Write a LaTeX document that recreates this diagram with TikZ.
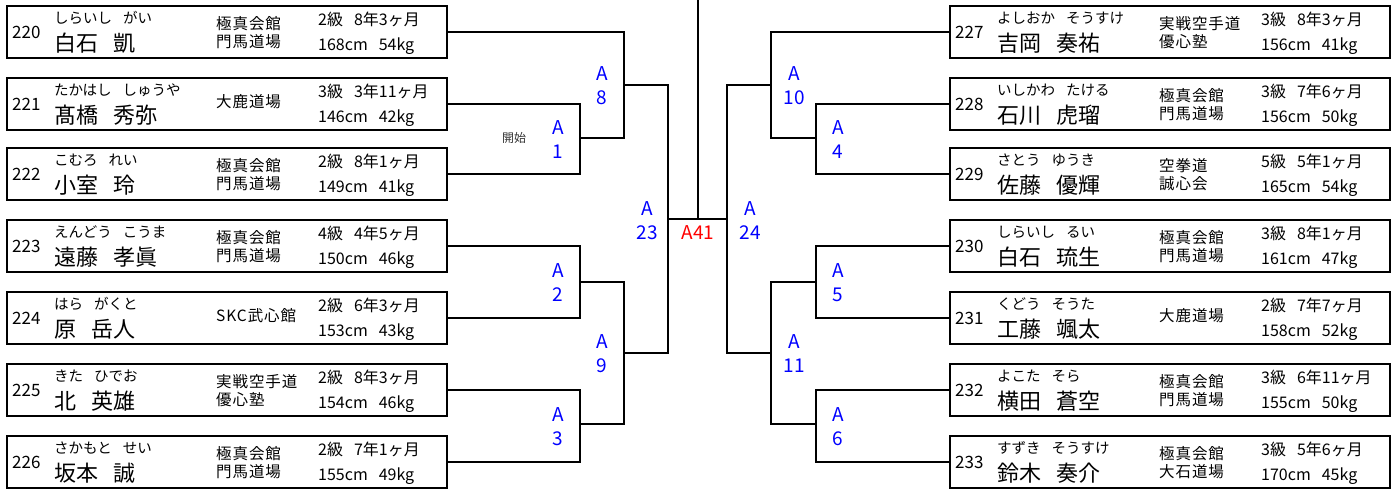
\documentclass[tikz,border=0pt]{standalone}
\usepackage{fontspec}
\setmainfont{Noto Sans CJK JP}
\newfontfamily\dojofont[LetterSpace=6]{Noto Sans CJK JP}
\newcommand{\fsp}{\hspace{11pt}}
\newcommand{\nsp}{\hspace{15pt}}
\newcommand{\gsp}{\hspace{11pt}}
\newcommand{\plyr}[9]{%
  \node[pbox] (p#1) at (#2,#3) {};
  \node[numt] (p#1num) at ([shift={(6pt,-33pt)}]p#1.north west) {#1};
  \node[furit] (p#1furi) at ([shift={(48pt,-18.5pt)}]p#1.north west) {#4};
  \node[namet] (p#1name) at ([shift={(48pt,-46.5pt)}]p#1.north west) {#5};
  \if\relax\detokenize{#7}\relax
    \node[dojot] (p#1dojo) at ([shift={(210pt,-30pt)}]p#1.north west) {#6};
  \else
    \node[dojot] (p#1dojoa) at ([shift={(210pt,-24.5pt)}]p#1.north west) {#6};
    \node[dojot] (p#1dojob) at ([shift={(210pt,-42.5pt)}]p#1.north west) {#7};
  \fi
  \node[gradet] (p#1grade) at ([shift={(312pt,-20pt)}]p#1.north west) {#8};
  \node[gradet] (p#1hw) at ([shift={(312pt,-45pt)}]p#1.north west) {#9};
}
\begin{document}
\begin{tikzpicture}[x=1pt,y=-1pt,
  pbox/.style={draw, line width=2pt, minimum width=440pt, minimum height=52pt, inner sep=0pt, anchor=north west},
  txt/.style={inner sep=0pt, anchor=base west, text=black},
  numt/.style={txt, font=\fontsize{17}{17}\selectfont},
  furit/.style={txt, font=\fontsize{14.5}{14.5}\selectfont},
  namet/.style={txt, font=\fontsize{22}{22}\selectfont},
  dojot/.style={txt, font=\dojofont\fontsize{15.5}{15.5}\selectfont},
  gradet/.style={txt, font=\fontsize{16}{16}\selectfont},
  lab/.style={inner sep=0pt, anchor=north, align=center, text=blue, font=\fontsize{19}{24}\selectfont},
  fin/.style={inner sep=0pt, anchor=base, text=red, font=\fontsize{19}{24}\selectfont},
  brk/.style={line width=1.6pt}]
\useasboundingbox (0,0) rectangle (1397,490);

% left players
\plyr{220}{6}{5}{しらいし\fsp がい}{白石\nsp 凱}{極真会館}{門馬道場}{2級\gsp 8年3ヶ月}{168cm\gsp 54kg}
\plyr{221}{6}{77}{たかはし\fsp しゅうや}{髙橋\nsp 秀弥}{大鹿道場}{}{3級\gsp 3年11ヶ月}{146cm\gsp 42kg}
\plyr{222}{6}{147}{こむろ\fsp れい}{小室\nsp 玲}{極真会館}{門馬道場}{2級\gsp 8年1ヶ月}{149cm\gsp 41kg}
\plyr{223}{6}{219}{えんどう\fsp こうま}{遠藤\nsp 孝眞}{極真会館}{門馬道場}{4級\gsp 4年5ヶ月}{150cm\gsp 46kg}
\plyr{224}{6}{291}{はら\fsp がくと}{原\nsp 岳人}{SKC武心館}{}{2級\gsp 6年3ヶ月}{153cm\gsp 43kg}
\plyr{225}{6}{363}{きた\fsp ひでお}{北\nsp 英雄}{実戦空手道}{優心塾}{2級\gsp 8年3ヶ月}{154cm\gsp 46kg}
\plyr{226}{6}{435}{さかもと\fsp せい}{坂本\nsp 誠}{極真会館}{門馬道場}{2級\gsp 7年1ヶ月}{155cm\gsp 49kg}
% right players
\plyr{227}{949}{5}{よしおか\fsp そうすけ}{吉岡\nsp 奏祐}{実戦空手道}{優心塾}{3級\gsp 8年3ヶ月}{156cm\gsp 41kg}
\plyr{228}{949}{77}{いしかわ\fsp たける}{石川\nsp 虎瑠}{極真会館}{門馬道場}{3級\gsp 7年6ヶ月}{156cm\gsp 50kg}
\plyr{229}{949}{147}{さとう\fsp ゆうき}{佐藤\nsp 優輝}{空拳道}{誠心会}{5級\gsp 5年1ヶ月}{165cm\gsp 54kg}
\plyr{230}{949}{219}{しらいし\fsp るい}{白石\nsp 琉生}{極真会館}{門馬道場}{3級\gsp 8年1ヶ月}{161cm\gsp 47kg}
\plyr{231}{949}{291}{くどう\fsp そうた}{工藤\nsp 颯太}{大鹿道場}{}{2級\gsp 7年7ヶ月}{158cm\gsp 52kg}
\plyr{232}{949}{363}{よこた\fsp そら}{横田\nsp 蒼空}{極真会館}{門馬道場}{3級\gsp 6年11ヶ月}{155cm\gsp 50kg}
\plyr{233}{949}{435}{すずき\fsp そうすけ}{鈴木\nsp 奏介}{極真会館}{大石道場}{3級\gsp 5年6ヶ月}{170cm\gsp 45kg}

% match points
\coordinate (m1) at (580,138);
\coordinate (m2) at (580,282);
\coordinate (m3) at (580,424);
\coordinate (m8) at (624,85);
\coordinate (m9) at (624,353);
\coordinate (m23) at (668,219);
\coordinate (mf) at (698,219);
\coordinate (mtop) at (698,0);
\coordinate (m24) at (727,219);
\coordinate (m10) at (771,85);
\coordinate (m11) at (771,353);
\coordinate (m4) at (816,138);
\coordinate (m5) at (816,282);
\coordinate (m6) at (816,424);

% left bracket
\draw[brk] (p221.east) -| (m1) |- (p222.east);
\draw[brk] (p223.east) -| (m2) |- (p224.east);
\draw[brk] (p225.east) -| (m3) |- (p226.east);
\draw[brk] (p220.east) -| (m8) |- (m1);
\draw[brk] (m2) -| (m9) |- (m3);
\draw[brk] (m8) -| (m23) |- (m9);
% final
\draw[brk] (m23) -- (m24);
\draw[brk] (mf) -- (mtop);
% right bracket
\draw[brk] (p228.west) -| (m4) |- (p229.west);
\draw[brk] (p230.west) -| (m5) |- (p231.west);
\draw[brk] (p232.west) -| (m6) |- (p233.west);
\draw[brk] (p227.west) -| (m10) |- (m4);
\draw[brk] (m5) -| (m11) |- (m6);
\draw[brk] (m10) -| (m24) |- (m11);

% labels
\node[lab] (l8) at (602,66) {A\\8};
\node[lab] (l1) at (558,120) {A\\1};
\node[lab] (l2) at (558,263) {A\\2};
\node[lab] (l9) at (602,334) {A\\9};
\node[lab] (l3) at (558,407) {A\\3};
\node[lab] (l23) at (647,201) {A\\23};
\node[fin] (l41) at (698,239) {A41};
\node[lab] (l24) at (750,201) {A\\24};
\node[lab] (l10) at (794,66) {A\\10};
\node[lab] (l4) at (838,120) {A\\4};
\node[lab] (l11) at (794,334) {A\\11};
\node[lab] (l5) at (838,263) {A\\5};
\node[lab] (l6) at (838,407) {A\\6};
\node[inner sep=0pt, text=black!80, font=\fontsize{12}{12}\selectfont] (start) at (514,138) {開始};
\end{tikzpicture}
\end{document}
